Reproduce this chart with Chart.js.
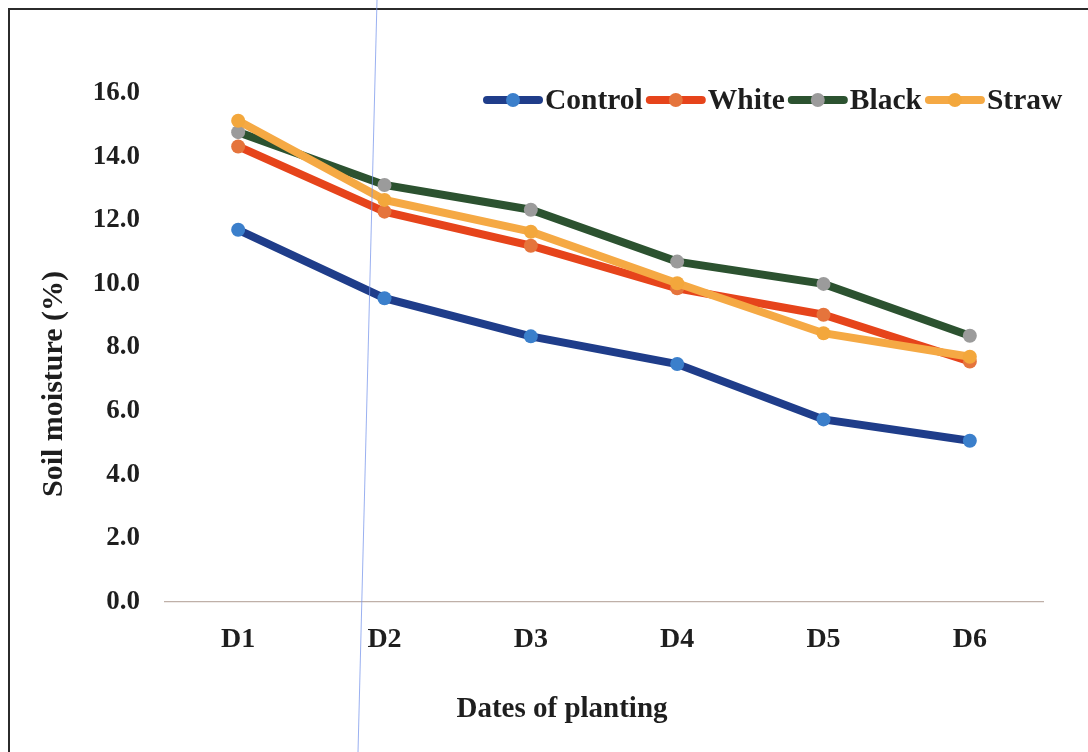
<!DOCTYPE html>
<html>
<head>
<meta charset="utf-8">
<title>Soil moisture by planting date</title>
<script src="https://cdn.jsdelivr.net/npm/chart.js@4.4.1/dist/chart.umd.min.js"></script>
<style>
  html, body { margin: 0; padding: 0; background: #ffffff; }
  #wrap { width: 1088px; height: 752px; position: relative; }
</style>
</head>
<body>
<div id="wrap"><canvas id="chart" width="1088" height="752"></canvas></div>
<script>
// Planting dates and soil moisture (%) per mulch treatment
const categories = ['D1', 'D2', 'D3', 'D4', 'D5', 'D6'];
const controlValues = [11.70, 9.55, 8.35, 7.48, 5.74, 5.07];
const whiteValues   = [14.32, 12.27, 11.20, 9.86, 9.03, 7.56];
const blackValues   = [14.77, 13.11, 12.33, 10.70, 10.00, 8.37];
const strawValues   = [15.13, 12.64, 11.64, 10.02, 8.45, 7.71];
const yTickValues   = [0, 2, 4, 6, 8, 10, 12, 14, 16];

const SERIF = '"Liberation Serif", "Times New Roman", serif';
const INK = '#1e1e1e';

function series(label, values, lineColor, pointColor, order) {
  return {
    label, data: values, order,
    borderColor: lineColor, backgroundColor: pointColor,
    pointBackgroundColor: pointColor, pointBorderColor: pointColor,
    borderWidth: 8, pointRadius: 7, pointBorderWidth: 0,
    tension: 0, fill: false
  };
}

const datasets = [
  series('Control', controlValues, '#1f3d8a', '#3b7fcb', 3),
  series('White',   whiteValues,   '#e6441b', '#e5743c', 2),
  series('Black',   blackValues,   '#2c5230', '#9b9b9b', 1),
  series('Straw',   strawValues,   '#f5a944', '#f3a73c', 0)
];

// Frame, thin blue rule, axis titles and the inline legend
const decorations = {
  id: 'decorations',
  beforeDraw(chart) {
    const ctx = chart.ctx;
    ctx.save();
    ctx.fillStyle = '#ffffff';
    ctx.fillRect(0, 0, chart.width, chart.height);
    ctx.restore();
  },
  afterDraw(chart) {
    const ctx = chart.ctx;
    ctx.save();
    // outer frame (top and left edges)
    ctx.strokeStyle = '#2b2b2b';
    ctx.lineWidth = 2;
    ctx.beginPath();
    ctx.moveTo(9, 752);
    ctx.lineTo(9, 9);
    ctx.lineTo(1088, 9);
    ctx.stroke();

    // thin blue rule
    ctx.strokeStyle = 'rgba(120,150,235,0.75)';
    ctx.lineWidth = 1;
    ctx.beginPath();
    ctx.moveTo(377, 0);
    ctx.lineTo(358, 752);
    ctx.stroke();

    // x axis title
    ctx.fillStyle = INK;
    ctx.font = 'bold 29px ' + SERIF;
    ctx.textAlign = 'center';
    ctx.textBaseline = 'middle';
    ctx.fillText('Dates of planting', 562, 710);

    // y axis title
    ctx.translate(54, 384);
    ctx.rotate(-Math.PI / 2);
    ctx.font = 'bold 30px ' + SERIF;
    ctx.fillText('Soil moisture (%)', 0, 0);
    ctx.restore();

    // legend row
    ctx.save();
    ctx.font = 'bold 29.5px ' + SERIF;
    ctx.textBaseline = 'middle';
    ctx.textAlign = 'left';
    const cy = 100;
    const lineLen = 60;
    let x = 483;
    chart.data.datasets.forEach((ds) => {
      ctx.strokeStyle = ds.borderColor;
      ctx.lineWidth = 8;
      ctx.lineCap = 'round';
      ctx.beginPath();
      ctx.moveTo(x + 4, cy);
      ctx.lineTo(x + lineLen - 4, cy);
      ctx.stroke();
      ctx.fillStyle = ds.pointBackgroundColor;
      ctx.beginPath();
      ctx.arc(x + lineLen / 2, cy, 7, 0, Math.PI * 2);
      ctx.fill();
      x += lineLen + 2;
      ctx.fillStyle = INK;
      ctx.fillText(ds.label, x, cy + 1);
      x += ctx.measureText(ds.label).width + 3;
    });
    ctx.restore();
  }
};

new Chart(document.getElementById('chart'), {
  type: 'line',
  data: { labels: categories, datasets },
  options: {
    responsive: false,
    animation: false,
    layout: { padding: { top: 93, right: 45, left: 0, bottom: 0 } },
    plugins: { legend: { display: false }, tooltip: { enabled: false } },
    scales: {
      x: {
        offset: true,
        grid: { display: false, drawTicks: false },
        border: { display: true, color: '#bfb0a8', width: 1.3 },
        ticks: { color: INK, padding: 21, font: { family: SERIF, size: 28, weight: 'bold' } },
        afterFit(scale) { scale.height = 150; }
      },
      y: {
        min: 0, max: 16,
        grid: { display: false, drawTicks: false },
        border: { display: false },
        afterBuildTicks(scale) { scale.ticks = yTickValues.map(v => ({ value: v })); },
        ticks: {
          color: INK, padding: 25,
          font: { family: SERIF, size: 27, weight: 'bold' },
          callback: (v) => Number(v).toFixed(1)
        },
        afterFit(scale) { scale.width = 165; }
      }
    }
  },
  plugins: [decorations]
});
</script>
</body>
</html>
